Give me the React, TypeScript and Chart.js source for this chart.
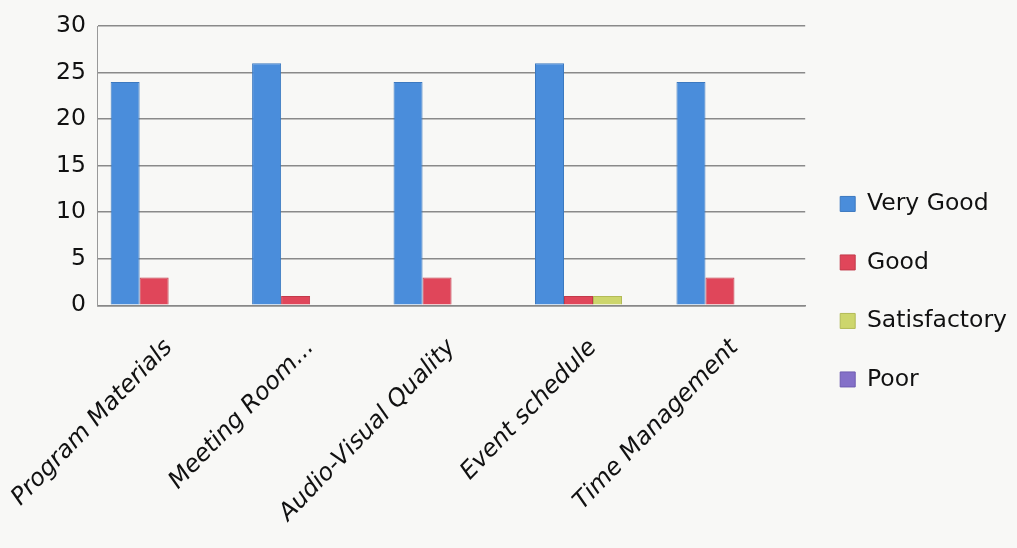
import React, { useEffect, useRef } from "react";
import { Chart, registerables } from "chart.js";

Chart.register(...registerables);

const categories = [
  "Program Materials",
  "Meeting Room...",
  "Audio-Visual Quality",
  "Event schedule",
  "Time Management",
];
const veryGood = [24, 26, 24, 26, 24];
const good = [3, 1, 3, 1, 3];
const satisfactory = [0, 0, 0, 1, 0];
const poor = [0, 0, 0, 0, 0];
const seriesNames = ["Very Good", "Good", "Satisfactory", "Poor"];
const seriesColors = ["#4a8ddb", "#e0465a", "#cdd66c", "#8470c8"];
const seriesBorders = ["#3c79c0", "#c23a4a", "#b3bb57", "#6d5bb0"];

const FONT = "'DejaVu Sans', sans-serif";

export default function App() {
  const ref = useRef<HTMLCanvasElement | null>(null);
  useEffect(() => {
    if (!ref.current) return;
    const values = [veryGood, good, satisfactory, poor];
    const chart = new Chart(ref.current, {
      type: "bar",
      data: {
        labels: categories,
        datasets: seriesNames.map((n, i) => ({
          label: n,
          data: values[i],
          backgroundColor: seriesColors[i],
          borderColor: seriesBorders[i],
          borderWidth: 1,
          barPercentage: 1,
          categoryPercentage: 0.82,
        })),
      },
      options: {
        animation: false,
        responsive: false,
        maintainAspectRatio: false,
        layout: { padding: { top: 13, left: 44, right: 0, bottom: 0 } },
        plugins: {
          tooltip: { enabled: false },
          legend: {
            position: "right",
            title: {
              display: true,
              text: " ",
              font: { size: 2 },
              padding: { top: 10, bottom: 10 },
            },
            labels: {
              boxWidth: 15,
              boxHeight: 15,
              padding: 35,
              color: "#111",
              font: { family: FONT, size: 23.5 },
            },
          },
        },
        scales: {
          x: {
            grid: { display: false },
            border: { display: true, color: "#888", width: 1.5 },
            afterFit: (scale: any) => {
              scale.paddingLeft = 0;
            },
            ticks: {
              minRotation: 46,
              maxRotation: 46,
              autoSkip: false,
              color: "#111",
              padding: 20.5,
              font: { family: FONT, size: 24, style: "italic" },
            },
          },
          y: {
            min: 0,
            max: 30,
            ticks: {
              stepSize: 5,
              color: "#111",
              padding: 12,
              font: { family: FONT, size: 23.5 },
            },
            grid: { color: "#8a8a8a", lineWidth: 1.5, drawTicks: false },
            border: { display: true, color: "#999", width: 1 },
          },
        },
      },
    });
    return () => chart.destroy();
  }, []);
  return (
    <div style={{ position: "absolute", left: 0, top: 0, width: 1017, height: 548, background: "#f8f8f6" }}>
      <canvas ref={ref} width={1017} height={548} />
    </div>
  );
}
